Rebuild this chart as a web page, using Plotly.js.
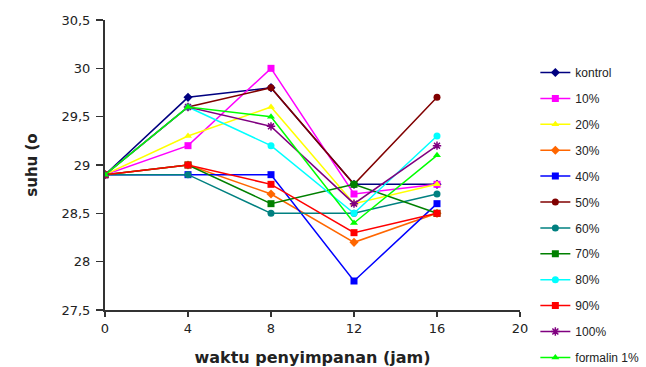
<!DOCTYPE html>
<html><head><meta charset="utf-8">
<script src="https://cdn.plot.ly/plotly-3.0.1.min.js"></script>
<style>html,body{margin:0;padding:0;background:#fff}#c{width:646px;height:367px}</style>
</head><body><div id="c"></div>
<script>
const hours = [0, 4, 8, 12, 16];
const labels = ["kontrol","10%","20%","30%","40%","50%","60%","70%","80%","90%","100%","formalin 1%"];
const kontrol = [28.9, 29.7, 29.8, 28.8, 28.8];
const p10 = [28.9, 29.2, 30.0, 28.7, 28.8];
const p20 = [28.9, 29.3, 29.6, 28.6, 28.8];
const p30 = [28.9, 29.0, 28.7, 28.2, 28.5];
const p40 = [28.9, 28.9, 28.9, 27.8, 28.6];
const p50 = [28.9, 29.6, 29.8, 28.8, 29.7];
const p60 = [28.9, 28.9, 28.5, 28.5, 28.7];
const p70 = [28.9, 29.0, 28.6, 28.8, 28.5];
const p80 = [28.9, 29.6, 29.2, 28.5, 29.3];
const p90 = [28.9, 29.0, 28.8, 28.3, 28.5];
const p100 = [28.9, 29.6, 29.4, 28.6, 29.2];
const formalin = [28.9, 29.6, 29.5, 28.4, 29.1];
const yTickVals = [27.5, 28, 28.5, 29, 29.5, 30, 30.5];
const yTickText = ["27,5","28","28,5","29","29,5","30","30,5"];
const xTickVals = [0, 4, 8, 12, 16, 20];

const series = [kontrol,p10,p20,p30,p40,p50,p60,p70,p80,p90,p100,formalin];
const colors = ["#000080","#FF00FF","#FFFF00","#FF6600","#0000FF","#800000","#008080","#008000","#00FFFF","#FF0000","#800080","#00FF00"];
const symbols = ["diamond","square","triangle-up","diamond","square","circle","circle","square","circle","square","asterisk-open","triangle-up"];

const traces = series.map((s,i)=>({
  x: hours, y: s, name: labels[i], type:'scatter', mode:'lines+markers',
  line:{color:colors[i], width:1.5},
  marker:{color:colors[i], symbol:symbols[i], size:7, line:{color:colors[i], width: symbols[i]==='asterisk-open'?1.5:0}},
  legendgroup:'g'+i
}));

const fam = '"DejaVu Sans", Verdana, sans-serif';
const layout = {
  width:646, height:367,
  margin:{l:105, r:126, t:20, b:57, autoexpand:false},
  paper_bgcolor:'#fff', plot_bgcolor:'#fff',
  showlegend:true,
  legend:{x:1.037, xanchor:'left', y:0.869, yanchor:'top', maxheight:400,
    font:{family:'"Liberation Sans", Arial, sans-serif', size:12, color:'#222'}, tracegroupgap:6.9, itemwidth:30, bgcolor:'rgba(0,0,0,0)'},
  xaxis:{range:[0,20], tickvals:xTickVals, ticks:'outside', ticklen:5, tickwidth:1.5, tickcolor:'#333',
    showline:true, linecolor:'#333', linewidth:2, showgrid:false, zeroline:false,
    tickfont:{family:fam, size:13, color:'#222'},
    title:{text:'<b>waktu penyimpanan (jam)</b>', font:{family:fam, size:16, color:'#222'}, standoff:17}},
  yaxis:{range:[27.5,30.5], tickvals:yTickVals, ticktext:yTickText, ticks:'outside', ticklen:7, tickwidth:1.5, tickcolor:'#333',
    ticklabelstandoff:3,
    showline:true, linecolor:'#333', linewidth:2, showgrid:false, zeroline:false,
    tickfont:{family:fam, size:13, color:'#222'},
    title:{text:'<b>suhu (o</b>', font:{family:fam, size:15, color:'#222'}, standoff:20}}
};
Plotly.newPlot('c', traces, layout, {displayModeBar:false, staticPlot:true});
</script></body></html>
